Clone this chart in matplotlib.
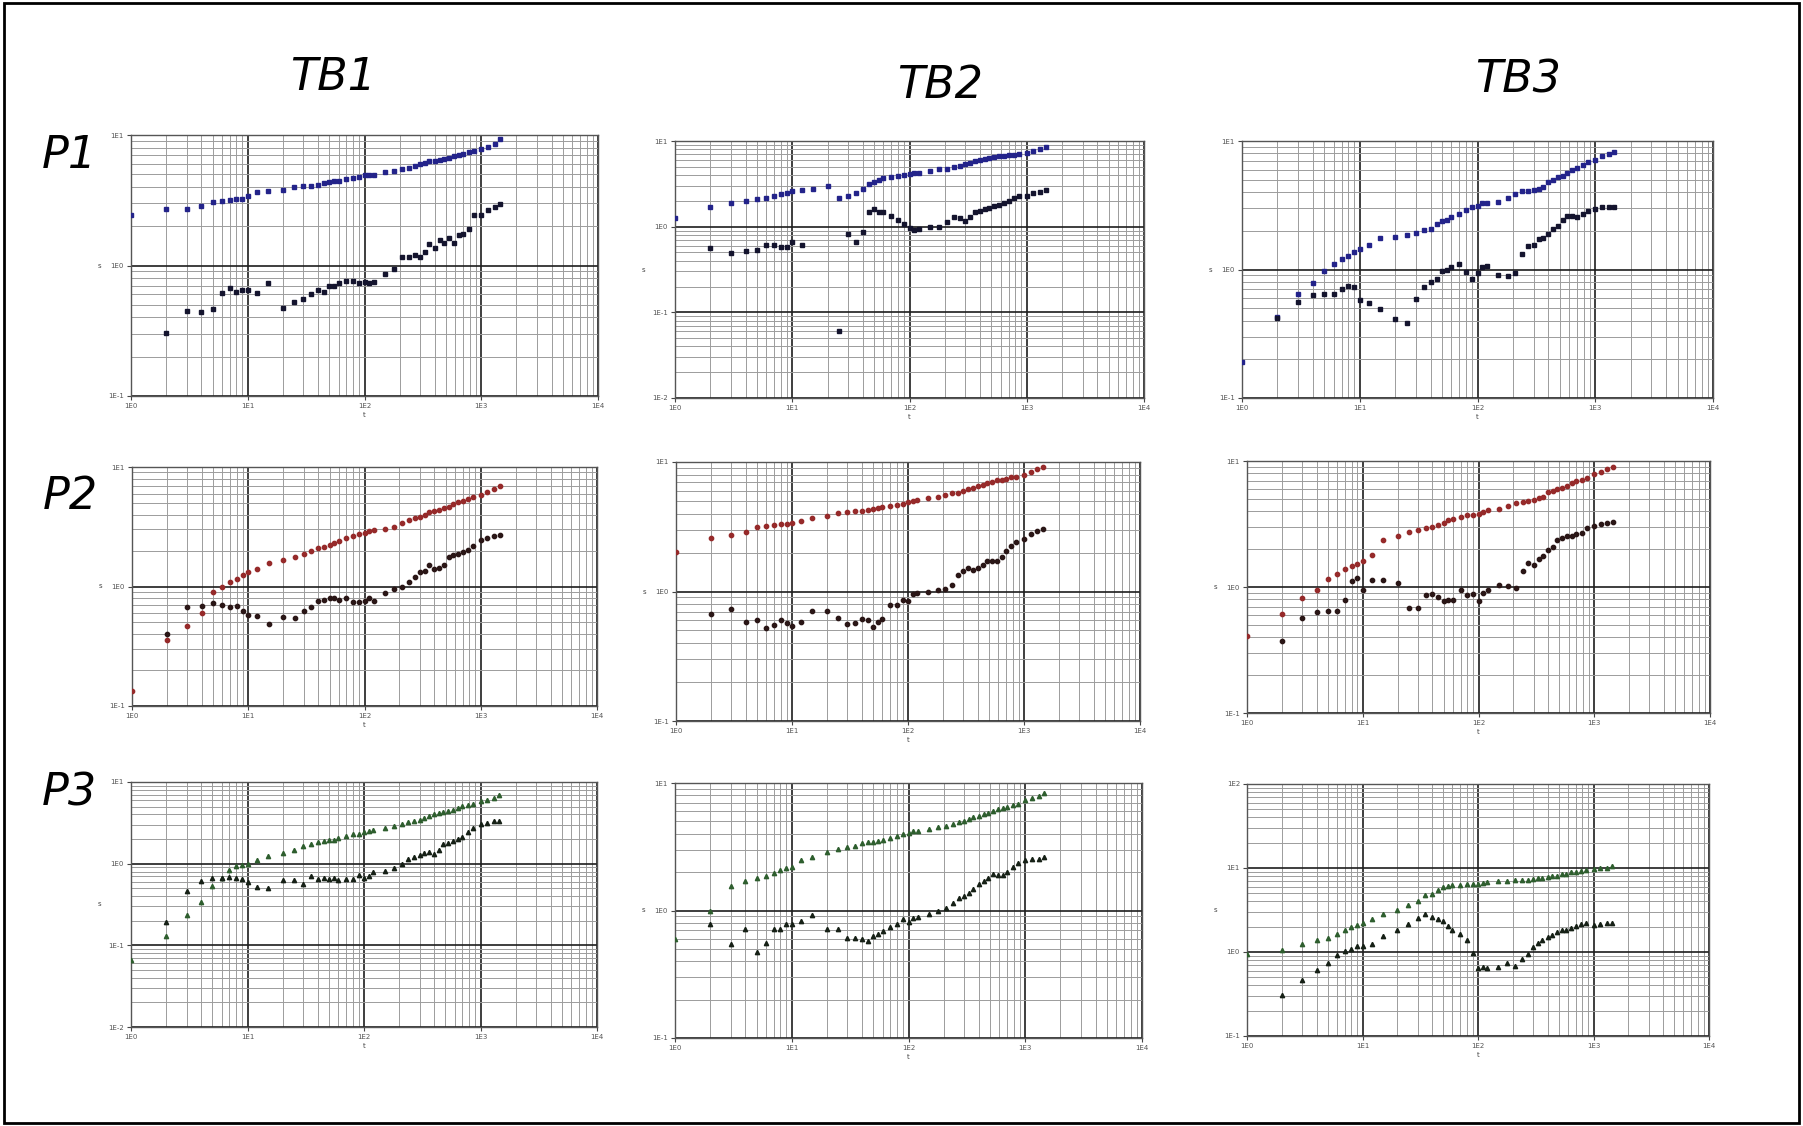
import numpy as np
import matplotlib
matplotlib.use('Agg')
import matplotlib.pyplot as plt
from matplotlib.ticker import LogLocator, FuncFormatter, NullFormatter
from matplotlib.patches import Rectangle

# common time base (t)
T = [1, 2, 3, 4, 5, 6, 7, 8, 9, 10, 12, 15, 20, 25, 30, 35, 40, 45, 50, 55, 60,
     70, 80, 90, 100, 110, 120, 150, 180, 210, 240, 270, 300, 330, 360, 400,
     440, 480, 530, 580, 640, 700, 780, 860, 1000, 1140, 1300, 1450]

col_titles = ['TB1', 'TB2', 'TB3']
row_titles = ['P1', 'P2', 'P3']

# drawdown s, one list per series (None = no reading)
tb1_p1_up = [2.42, 2.70, 2.73, 2.88, 3.04, 3.1, 3.2, 3.24, 3.24, 3.42, 3.63, 3.71, 3.82, 4.0, 4.05, 4.1,
             4.17, 4.27, 4.33, 4.43, 4.48, 4.6, 4.69, 4.77, 4.9, 4.95, 4.98, 5.2, 5.28, 5.47, 5.56, 5.77,
             5.97, 6.15, 6.3, 6.35, 6.45, 6.6, 6.7, 6.95, 7.05, 7.2, 7.4, 7.6, 7.8, 8.05, 8.5, 9.3]
tb1_p1_lo = [None, 0.305, 0.452, 0.44, 0.466, 0.617, 0.67, 0.632, 0.647, 0.65, 0.614, 0.736, 0.47, 0.524,
             0.549, 0.61, 0.647, 0.632, 0.694, 0.694, 0.736, 0.763, 0.758, 0.728, 0.754, 0.732, 0.75, 0.868,
             0.932, 1.17, 1.17, 1.21, 1.17, 1.28, 1.45, 1.35, 1.57, 1.5, 1.63, 1.48, 1.70, 1.75, 1.91, 2.42,
             2.45, 2.67, 2.8, 2.97]
tb2_p1_up = [1.25, 1.68, 1.87, 2.01, 2.1, 2.19, 2.3, 2.4, 2.49, 2.6, 2.67, 2.77, 3.0, 2.14, 2.28, 2.49,
             2.72, 3.14, 3.34, 3.5, 3.65, 3.82, 3.89, 4.0, 4.17, 4.2, 4.25, 4.44, 4.73, 4.77, 5.0, 5.17,
             5.35, 5.54, 5.8, 6.0, 6.2, 6.35, 6.5, 6.67, 6.75, 6.85, 6.9, 7.05, 7.3, 7.7, 8.15, 8.4]
tb2_p1_lo = [None, 0.56, 0.498, 0.525, 0.535, 0.61, 0.61, 0.585, 0.585, 0.67, 0.61, None, None, 0.06,
             0.82, 0.66, 0.86, 1.47, 1.59, 1.47, 1.5, 1.33, 1.2, 1.07, 0.97, 0.915, 0.93, 0.98, 1.0, 1.12,
             1.28, 1.27, 1.16, 1.3, 1.5, 1.53, 1.59, 1.66, 1.74, 1.79, 1.88, 1.97, 2.14, 2.28, 2.28, 2.44,
             2.56, 2.67]
tb3_p1_up = [0.19, 0.43, 0.64, 0.78, 0.97, 1.1, 1.2, 1.28, 1.36, 1.45, 1.56, 1.76, 1.79, 1.87, 1.94, 2.02,
             2.08, 2.24, 2.38, 2.42, 2.57, 2.68, 2.9, 3.04, 3.13, 3.3, 3.3, 3.36, 3.57, 3.86, 4.05, 4.1,
             4.15, 4.22, 4.4, 4.8, 5.0, 5.2, 5.35, 5.65, 5.93, 6.2, 6.5, 6.85, 7.1, 7.6, 7.9, 8.2]
tb3_p1_lo = [None, 0.42, 0.56, 0.63, 0.64, 0.64, 0.71, 0.746, 0.725, 0.577, 0.55, 0.49, 0.41, 0.38, 0.59,
             0.725, 0.8, 0.85, 0.98, 0.99, 1.05, 1.1, 0.95, 0.85, 0.94, 1.05, 1.06, 0.9, 0.89, 0.94, 1.31,
             1.53, 1.56, 1.73, 1.77, 1.9, 2.08, 2.17, 2.42, 2.6, 2.62, 2.57, 2.7, 2.85, 2.95, 3.04, 3.04, 3.04]

tb1_p2_up = [0.133, 0.354, 0.47, 0.6, 0.9, 1.0, 1.09, 1.16, 1.25, 1.32, 1.41, 1.57, 1.67, 1.75, 1.87, 2.0,
             2.08, 2.16, 2.23, 2.3, 2.38, 2.55, 2.63, 2.74, 2.83, 2.9, 2.97, 3.03, 3.13, 3.38, 3.6, 3.72,
             3.84, 3.97, 4.17, 4.32, 4.4, 4.55, 4.66, 4.9, 5.06, 5.22, 5.4, 5.6, 5.88, 6.2, 6.5, 6.98]
tb1_p2_lo = [None, 0.40, 0.67, 0.69, 0.73, 0.70, 0.68, 0.685, 0.62, 0.58, 0.565, 0.49, 0.555, 0.54, 0.62,
             0.67, 0.75, 0.77, 0.8, 0.8, 0.77, 0.8, 0.74, 0.74, 0.76, 0.8, 0.75, 0.88, 0.96, 1.0, 1.1, 1.2,
             1.32, 1.36, 1.5, 1.4, 1.42, 1.5, 1.76, 1.84, 1.87, 1.96, 2.02, 2.2, 2.45, 2.55, 2.65, 2.72]
tb2_p2_up = [2.01, 2.59, 2.73, 2.9, 3.13, 3.19, 3.28, 3.33, 3.35, 3.37, 3.53, 3.68, 3.86, 4.02, 4.14, 4.19,
             4.22, 4.27, 4.37, 4.42, 4.47, 4.6, 4.68, 4.76, 4.88, 4.96, 5.1, 5.25, 5.4, 5.6, 5.73, 5.8,
             6.0, 6.15, 6.3, 6.5, 6.7, 6.85, 7.0, 7.2, 7.3, 7.45, 7.6, 7.7, 7.9, 8.3, 8.8, 9.2]
tb2_p2_lo = [None, 0.67, 0.735, 0.58, 0.6, 0.52, 0.556, 0.6, 0.57, 0.54, 0.58, 0.71, 0.705, 0.62, 0.56,
             0.57, 0.615, 0.60, 0.53, 0.58, 0.61, 0.78, 0.79, 0.86, 0.84, 0.96, 0.97, 1.0, 1.03, 1.05, 1.13,
             1.33, 1.43, 1.52, 1.47, 1.52, 1.59, 1.71, 1.73, 1.71, 1.84, 2.07, 2.26, 2.4, 2.55, 2.78, 2.95,
             3.04]
tb3_p2_up = [0.41, 0.615, 0.82, 0.94, 1.15, 1.27, 1.38, 1.46, 1.53, 1.6, 1.81, 2.37, 2.56, 2.72, 2.84, 2.93,
             3.02, 3.13, 3.21, 3.41, 3.47, 3.62, 3.73, 3.73, 3.81, 3.97, 4.1, 4.17, 4.38, 4.65, 4.7, 4.85,
             4.94, 5.06, 5.2, 5.64, 5.8, 5.97, 6.1, 6.36, 6.65, 6.9, 7.1, 7.35, 7.9, 8.2, 8.6, 9.0]
tb3_p2_lo = [None, 0.37, 0.57, 0.634, 0.65, 0.65, 0.79, 1.12, 1.17, 0.94, 1.13, 1.14, 1.08, 0.68, 0.68,
             0.86, 0.875, 0.84, 0.775, 0.79, 0.79, 0.95, 0.86, 0.875, 0.77, 0.9, 0.94, 1.04, 1.01, 0.98,
             1.35, 1.55, 1.5, 1.68, 1.75, 1.95, 2.07, 2.34, 2.45, 2.56, 2.53, 2.64, 2.67, 2.95, 3.07, 3.17,
             3.23, 3.27]

tb1_p3_up = [0.066, 0.129, 0.235, 0.34, 0.53, 0.675, 0.83, 0.94, 0.96, 1.0, 1.12, 1.24, 1.36, 1.48, 1.64,
             1.75, 1.84, 1.89, 1.93, 1.96, 2.07, 2.17, 2.28, 2.34, 2.43, 2.5, 2.57, 2.7, 2.88, 3.02, 3.22,
             3.3, 3.4, 3.64, 3.8, 4.0, 4.15, 4.3, 4.4, 4.6, 4.8, 5.05, 5.2, 5.4, 5.8, 6.0, 6.4, 6.9]
tb1_p3_lo = [None, 0.195, 0.46, 0.61, 0.675, 0.675, 0.69, 0.66, 0.64, 0.59, 0.52, 0.5, 0.63, 0.63, 0.57,
             0.71, 0.645, 0.675, 0.645, 0.66, 0.63, 0.655, 0.645, 0.72, 0.66, 0.7, 0.78, 0.81, 0.89, 1.0,
             1.13, 1.2, 1.27, 1.36, 1.4, 1.32, 1.45, 1.75, 1.77, 1.89, 1.98, 2.11, 2.45, 2.7, 3.02, 3.16,
             3.3, 3.37]
tb2_p3_up = [0.6, 1.0, 1.57, 1.69, 1.79, 1.88, 1.97, 2.08, 2.14, 2.21, 2.5, 2.62, 2.89, 3.06, 3.12, 3.23,
             3.37, 3.43, 3.47, 3.54, 3.58, 3.68, 3.85, 3.96, 4.05, 4.17, 4.24, 4.37, 4.49, 4.62, 4.76, 4.9,
             5.06, 5.21, 5.37, 5.53, 5.7, 5.85, 6.0, 6.2, 6.35, 6.45, 6.75, 6.9, 7.3, 7.6, 7.95, 8.3]
tb2_p3_lo = [None, 0.78, 0.55, 0.71, 0.47, 0.56, 0.71, 0.71, 0.79, 0.78, 0.83, 0.93, 0.71, 0.71, 0.61,
             0.61, 0.6, 0.58, 0.63, 0.66, 0.69, 0.74, 0.78, 0.85, 0.81, 0.87, 0.89, 0.94, 1.0, 1.05, 1.14,
             1.26, 1.29, 1.37, 1.48, 1.62, 1.7, 1.8, 1.94, 1.91, 1.91, 2.0, 2.2, 2.35, 2.49, 2.52, 2.55, 2.65]
tb3_p3_up = [0.955, 1.05, 1.23, 1.38, 1.48, 1.65, 1.85, 1.99, 2.12, 2.22, 2.5, 2.81, 3.14, 3.67, 4.05, 4.74,
             4.96, 5.44, 5.95, 6.1, 6.2, 6.3, 6.4, 6.5, 6.5, 6.7, 6.8, 6.95, 7.0, 7.1, 7.2, 7.2, 7.35, 7.5,
             7.7, 7.85, 8.0, 8.1, 8.4, 8.6, 8.85, 9.0, 9.25, 9.45, 9.7, 9.9, 10.0, 10.5]
tb3_p3_lo = [None, 0.31, 0.46, 0.615, 0.74, 0.91, 1.02, 1.1, 1.18, 1.17, 1.23, 1.55, 1.85, 2.14, 2.56, 2.81,
             2.61, 2.5, 2.34, 2.04, 1.85, 1.65, 1.38, 0.97, 0.645, 0.67, 0.645, 0.67, 0.74, 0.69, 0.83,
             0.955, 1.15, 1.28, 1.38, 1.51, 1.61, 1.73, 1.85, 1.85, 1.95, 2.02, 2.14, 2.22, 2.12, 2.18,
             2.2, 2.22]

upper = [[tb1_p1_up, tb2_p1_up, tb3_p1_up],
         [tb1_p2_up, tb2_p2_up, tb3_p2_up],
         [tb1_p3_up, tb2_p3_up, tb3_p3_up]]
lower = [[tb1_p1_lo, tb2_p1_lo, tb3_p1_lo],
         [tb1_p2_lo, tb2_p2_lo, tb3_p2_lo],
         [tb1_p3_lo, tb2_p3_lo, tb3_p3_lo]]
ylims = [[(0.1, 10), (0.01, 10), (0.1, 10)],
         [(0.1, 10), (0.1, 10), (0.1, 10)],
         [(0.01, 10), (0.1, 10), (0.1, 100)]]

# panel boxes in pixels (left, top, right, bottom)
boxes = [[(131, 135, 598, 396), (675, 141, 1144, 398), (1242, 141, 1713, 398)],
         [(132, 467, 597, 706), (676, 462, 1140, 721), (1247, 461, 1710, 713)],
         [(131, 782, 597, 1027), (675, 783, 1142, 1038), (1247, 784, 1709, 1036)]]
markers = ['s', 'o', '^']
up_colors = ['#23238a', '#962a2a', '#2e5e2e']
lo_colors = ['#14142e', '#2a1616', '#162016']

W, H = 1803, 1126
fig = plt.figure(figsize=(W / 100, H / 100), dpi=100)
fig.patch.set_facecolor('white')
fig.patches.append(Rectangle((0.002, 0.003), 0.996, 0.994, transform=fig.transFigure,
                             fill=False, edgecolor='black', lw=2))

title_font = dict(family=['Liberation Sans Narrow', 'DejaVu Sans'], style='italic', fontsize=32)
fmt = FuncFormatter(lambda v, p: '1E%d' % int(round(np.log10(v))))
t = np.array(T, dtype=float)

for r in range(3):
    for c in range(3):
        l, tp, rt, b = boxes[r][c]
        ax = fig.add_axes([l / W, 1 - b / H, (rt - l) / W, (b - tp) / H])
        ax.set_xscale('log')
        ax.set_yscale('log')
        ax.set_xlim(1, 1e4)
        ax.set_ylim(*ylims[r][c])
        su = np.array([np.nan if v is None else v for v in upper[r][c]])
        sl = np.array([np.nan if v is None else v for v in lower[r][c]])
        ax.plot(t, su, linestyle='none', marker=markers[r], ms=3.1,
                color=up_colors[r], mec=up_colors[r], zorder=3)
        ax.plot(t, sl, linestyle='none', marker=markers[r], ms=3.1,
                color=lo_colors[r], mec=lo_colors[r], zorder=3)
        for a in (ax.xaxis, ax.yaxis):
            a.set_major_locator(LogLocator(base=10, numticks=10))
            a.set_minor_locator(LogLocator(base=10, subs=np.arange(2, 10), numticks=50))
            a.set_major_formatter(fmt)
            a.set_minor_formatter(NullFormatter())
        ax.grid(which='major', color='#1e1e1e', lw=1.2)
        ax.grid(which='minor', color='#9c9c9c', lw=0.7)
        ax.set_axisbelow(True)
        for sp in ax.spines.values():
            sp.set_color('#555555')
            sp.set_linewidth(1.0)
        ax.tick_params(which='major', length=3, width=0.8, color='#444444',
                       labelsize=5, labelcolor='#555555', pad=2)
        ax.tick_params(which='minor', length=0)
        ax.set_xlabel('t', fontsize=5, color='#444444', labelpad=2)
        ax.set_ylabel('s', fontsize=5, color='#444444', rotation=0, labelpad=6, va='center')

title_pos = [(333, 78), (940, 86), (1518, 80)]
for name, (x, y) in zip(col_titles, title_pos):
    fig.text(x / W, 1 - y / H, name, ha='center', va='center', **title_font)
row_pos = [(69, 155), (70, 496), (69, 793)]
for name, (x, y) in zip(row_titles, row_pos):
    fig.text(x / W, 1 - y / H, name, ha='center', va='center', **title_font)

fig.savefig('out.png', dpi=100, facecolor='white')
